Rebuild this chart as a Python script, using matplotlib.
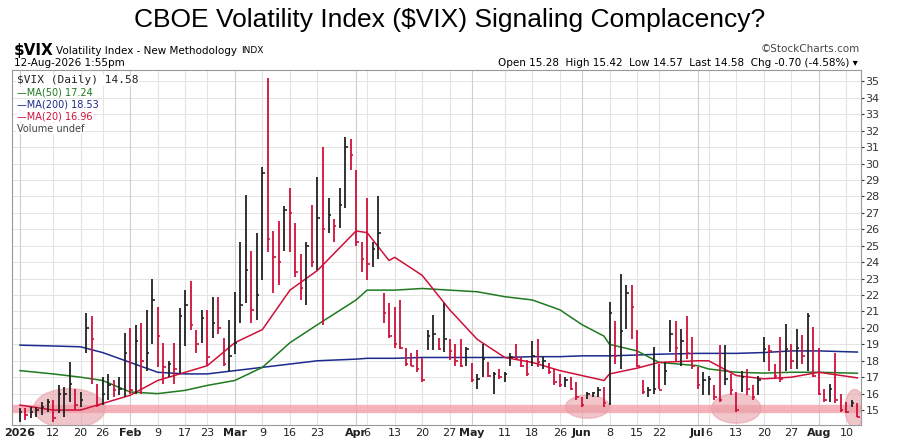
import numpy as np
import pandas as pd
import matplotlib
matplotlib.use('Agg')
import matplotlib.pyplot as plt
from matplotlib.patches import Ellipse

# daily bars (high, low, close)
highs = [15.1, 15.1, 15.2, 15.2, 15.5, 15.7, 15.6, 16.5, 16.4, 17.9, 16.3, 16.1, 20.9, 20.7, 16.6, 17.0, 17.2, 16.8, 17.0, 19.7,
         20.0, 20.2, 20.3, 21.1, 23.0, 21.3, 19.1, 18.0, 19.1, 21.2, 22.3, 22.85, 19.9,
         21.1, 21.1, 21.9, 21.9, 19.4, 20.5, 22.2, 25.2, 28.1, 24.7, 25.8, 29.8, 35.2, 25.9, 26.5, 27.4, 28.5, 26.4, 24.5, 25.2,
         27.5, 29.2, 31.0, 27.9, 26.6, 28.5, 31.6, 31.5, 29.6, 25.2, 27.9, 25.2, 28.0, 22.1, 21.5, 21.3, 21.7,
         18.75, 18.45, 18.65, 18.15, 19.9, 20.8, 19.4, 21.5, 19.3, 19.0, 19.3, 18.85, 17.85, 17.2, 19.0, 17.95, 17.3, 17.5,
         17.3, 18.45, 19.0, 18.25, 18.05, 19.2, 19.3, 18.25, 17.85, 17.5, 17.2, 17.0, 17.0, 16.7, 15.8, 16.1, 16.1, 16.4, 16.4,
         21.6, 20.4, 23.3, 22.6, 22.6, 19.85, 16.8, 16.4, 18.85, 17.8, 17.9, 20.5, 20.4, 19.95, 20.7, 19.45, 17.6, 17.3, 17.1,
         16.5, 18.95, 18.95, 17.2, 16.1, 17.4, 17.5, 16.5, 17.1, 19.45, 18.95, 17.8, 19.45, 20.25, 19.05, 19.95, 19.55, 20.9,
         20.05, 18.75, 16.3, 16.6, 18.45, 16.0, 15.5, 15.6, 15.42]
lows = [14.3, 14.4, 14.5, 14.6, 14.7, 14.9, 14.3, 14.8, 14.6, 15.5, 15.0, 15.2, 18.5, 16.6, 15.2, 15.3, 15.6, 15.8, 15.9, 15.8,
        16.0, 16.0, 16.0, 17.4, 19.05, 17.6, 16.6, 17.0, 16.6, 17.2, 18.9, 19.9, 18.5,
        19.1, 17.7, 19.4, 19.6, 17.7, 17.4, 18.4, 20.3, 21.5, 20.3, 20.5, 22.9, 24.6, 22.1, 22.6, 24.7, 24.6, 23.1, 21.7, 21.4,
        23.7, 23.5, 20.2, 25.8, 25.2, 26.1, 27.3, 29.6, 25.0, 23.4, 22.9, 23.7, 24.2, 20.3, 19.4, 18.8, 18.7,
        17.7, 17.7, 17.3, 16.7, 18.65, 18.65, 18.65, 18.55, 18.05, 17.7, 17.6, 17.7, 16.7, 16.3, 17.0, 17.0, 16.0, 16.9,
        16.7, 17.7, 18.05, 17.6, 17.1, 17.7, 17.6, 17.5, 17.2, 16.5, 16.4, 16.4, 16.2, 15.6, 15.2, 15.7, 15.8, 15.8, 15.2,
        15.3, 17.8, 17.5, 19.95, 19.35, 17.6, 16.0, 15.8, 16.0, 16.3, 16.5, 18.55, 17.9, 17.7, 18.1, 17.5, 16.3, 15.9, 15.9,
        15.6, 15.5, 16.5, 15.9, 14.9, 16.1, 15.9, 15.6, 15.9, 17.9, 17.4, 16.9, 16.7, 17.4, 17.5, 17.5, 17.8, 17.4,
        17.0, 15.9, 15.5, 15.5, 15.4, 14.9, 14.8, 15.2, 14.57]
closes = [14.9, 14.7, 14.9, 15.0, 15.2, 15.5, 14.5, 16.0, 16.0, 16.6, 15.3, 15.6, 20.0, 19.3, 15.3, 16.0, 16.5, 16.2, 16.3, 18.5,
          16.2, 19.2, 18.0, 18.5, 21.7, 19.5, 17.6, 17.8, 17.5, 20.7, 21.4, 20.2, 19.0,
          20.6, 18.2, 20.3, 20.0, 17.8, 18.3, 19.1, 21.4, 23.5, 21.1, 22.0, 29.4, 25.4, 24.3, 24.0, 27.2, 27.0, 23.4, 22.4, 25.0,
          24.0, 26.7, 26.0, 26.9, 26.2, 27.5, 31.0, 30.5, 25.2, 24.2, 23.9, 24.8, 25.8, 20.9, 19.5, 19.0, 18.8,
          17.8, 17.7, 17.5, 16.8, 19.5, 19.6, 18.7, 19.3, 18.6, 18.0, 17.7, 18.7, 16.8, 16.9, 18.1, 17.1, 17.2, 17.0,
          17.2, 18.2, 18.1, 17.7, 17.2, 18.3, 17.9, 18.0, 17.3, 16.7, 16.5, 16.8, 16.3, 15.8, 15.3, 16.0, 16.05, 16.2, 15.4,
          20.9, 18.3, 19.8, 22.1, 21.3, 17.7, 16.1, 16.2, 16.3, 16.2, 17.4, 19.6, 18.8, 19.2, 18.5, 17.7, 16.5, 16.8, 16.9,
          15.8, 15.6, 16.9, 16.2, 15.0, 17.0, 16.3, 15.8, 16.8, 18.7, 18.6, 17.1, 16.9, 18.7, 18.0, 18.8, 18.3, 20.7,
          17.1, 16.0, 15.6, 16.3, 15.6, 15.0, 14.9, 15.4, 14.58]

# moving averages read at weekly points
ma_dates = ['2026-01-02', '2026-01-12', '2026-01-20', '2026-01-26', '2026-02-02', '2026-02-09', '2026-02-17', '2026-02-23',
            '2026-03-02', '2026-03-09', '2026-03-16', '2026-03-23', '2026-04-01', '2026-04-06', '2026-04-10', '2026-04-13',
            '2026-04-20', '2026-04-27', '2026-05-04', '2026-05-11', '2026-05-18', '2026-05-26', '2026-06-01', '2026-06-05',
            '2026-06-08', '2026-06-15', '2026-06-22', '2026-07-01', '2026-07-06', '2026-07-13', '2026-07-20', '2026-07-27',
            '2026-08-03', '2026-08-12']
ma20 = [15.3, 15.0, 15.0, 15.4, 15.9, 16.8, 17.3, 17.7, 19.1, 19.9, 22.3, 23.5, 25.9, 25.8, 24.1, 24.3,
        23.2, 21.1, 19.3, 18.2, 17.9, 17.4, 17.1, 16.8, 17.2, 17.55, 17.9, 18.0, 18.0, 17.1, 16.9, 17.0, 17.3, 16.96]
ma50 = [17.4, 17.2, 17.0, 16.8, 16.1, 16.0, 16.2, 16.5, 16.8, 17.6, 19.1, 20.2, 21.7, 22.3, 22.3, 22.3,
        22.4, 22.3, 22.2, 21.9, 21.7, 21.1, 20.2, 19.5, 19.0, 18.6, 17.9, 17.7, 17.5, 17.3, 17.25, 17.3, 17.3, 17.24]
ma200 = [18.95, 18.9, 18.85, 18.5, 17.9, 17.3, 17.2, 17.2, 17.4, 17.6, 17.8, 18.0, 18.1, 18.15, 18.15, 18.15,
         18.2, 18.2, 18.2, 18.2, 18.25, 18.25, 18.3, 18.3, 18.3, 18.35, 18.4, 18.45, 18.45, 18.45, 18.5, 18.6, 18.6, 18.53]

tick_dates = ['2026-01-02', '2026-01-12', '2026-01-20', '2026-01-26', '2026-02-02', '2026-02-09', '2026-02-17', '2026-02-23',
              '2026-03-02', '2026-03-09', '2026-03-16', '2026-03-23', '2026-04-01', '2026-04-06', '2026-04-13', '2026-04-20',
              '2026-04-27', '2026-05-01', '2026-05-11', '2026-05-18', '2026-05-26', '2026-06-01', '2026-06-08', '2026-06-15',
              '2026-06-22', '2026-07-01', '2026-07-06', '2026-07-13', '2026-07-20', '2026-07-27', '2026-08-03', '2026-08-10']
tick_labels = ['2026', '12', '20', '26', 'Feb', '9', '17', '23', 'Mar', '9', '16', '23', 'Apr', '6', '13', '20', '27',
               'May', '11', '18', '26', 'Jun', '8', '15', '22', 'Jul', '6', '13', '20', '27', 'Aug', '10']

holidays = ['2026-01-01', '2026-01-19', '2026-02-16', '2026-04-03', '2026-05-25', '2026-06-19', '2026-07-03']
days = pd.bdate_range('2026-01-02', periods=200, freq='C', holidays=holidays)[:len(closes)]
pos = pd.Series(np.arange(len(days)), index=days)

def idx(d):
    return pos.index.get_indexer([pd.Timestamp(d)], method='nearest')[0]

x = np.arange(len(closes))
c = np.array(closes)
col = ['#222222'] + ['#d0103a' if c[i] < c[i-1] else '#222222' for i in range(1, len(c))]

fig = plt.figure(figsize=(9, 4.43), dpi=100)
ax = fig.add_axes([0.013, 0.041, 0.944, 0.801])

ax.set_xlim(-1.5, len(c) - 0.3)
ax.set_ylim(14.1, 35.7)
for yv in range(15, 36):
    ax.axhline(yv, color='#e4e4e4', lw=0.7, zorder=0)
tx = [idx(d) for d in tick_dates]
for t, lab in zip(tx, tick_labels):
    ax.axvline(t, color='#cfcfcf' if not lab.isdigit() or lab == '2026' else '#e4e4e4', lw=0.8, zorder=0)

ax.axhline(15.05, color='#f4a0a8', lw=6, alpha=0.8, zorder=1)
ell = [(9, 15.1, 13, 2.4), (103, 15.2, 8, 1.4), (130, 15.1, 9, 1.8), (151.5, 15.1, 3.5, 2.3)]
for ex, ey, ew, eh in ell:
    ax.add_patch(Ellipse((ex, ey), ew, eh, color='#e9a0a8', alpha=0.6, zorder=1))

mx = [idx(d) for d in ma_dates]
ax.plot(mx, ma200, color='#1c2a8c', lw=1.1, zorder=2)
ax.plot(mx, ma50, color='#1f7a1f', lw=1.1, zorder=2)
ax.plot(mx, ma20, color='#d0103a', lw=1.1, zorder=2)

ax.vlines(x, lows, highs, colors=col, lw=1.3, zorder=3)
ax.hlines(c, x, x + 0.45, colors=col, lw=1.2, zorder=3)

ax.set_yticks(range(15, 36))
ax.yaxis.tick_right()
ax.tick_params(axis='y', labelsize=8, length=2, pad=1, colors='#333333')
ax.set_xticks(tx)
ax.set_xticklabels(tick_labels, fontsize=8, color='#222222')
for lbl in ax.get_xticklabels():
    if not lbl.get_text().isdigit() or lbl.get_text() == '2026':
        lbl.set_fontweight('bold')
ax.tick_params(axis='x', length=0, pad=2)
for s in ax.spines.values():
    s.set_color('#999999')
    s.set_linewidth(0.8)

fig.text(0.5, 0.955, 'CBOE Volatility Index ($VIX) Signaling Complacency?', ha='center', va='center', fontsize=19,
         family='Liberation Sans')
fig.text(0.015, 0.885, '$VIX', fontsize=11, fontweight='bold', va='center')
fig.text(0.062, 0.885, 'Volatility Index - New Methodology', fontsize=7.5, va='center')
fig.text(0.268, 0.885, 'INDX', fontsize=6.5, va='center')
fig.text(0.015, 0.857, '12-Aug-2026 1:55pm', fontsize=7.5, va='center')
fig.text(0.955, 0.89, '\u00a9StockCharts.com', fontsize=7.5, va='center', ha='right', color='#444444')
fig.text(0.953, 0.857, 'Open 15.28  High 15.42  Low 14.57  Last 14.58  Chg -0.70 (-4.58%) \u25be',
         fontsize=7.5, va='center', ha='right')

leg = [('$VIX (Daily) 14.58', '#222222', 8), ('\u2014MA(50) 17.24', '#1f7a1f', 7), ('\u2014MA(200) 18.53', '#1c2a8c', 7),
       ('\u2014MA(20) 16.96', '#d0103a', 7), ('Volume undef', '#444444', 7)]
for i, (t, cc, fs) in enumerate(leg):
    ax.text(0.006, 0.985 - i * 0.034, t, transform=ax.transAxes, color=cc, fontsize=fs, va='top',
            family='DejaVu Sans Mono' if i == 0 else 'DejaVu Sans',
            bbox=dict(facecolor='white', edgecolor='none', pad=0.3))

fig.savefig('out.png', dpi=100)
